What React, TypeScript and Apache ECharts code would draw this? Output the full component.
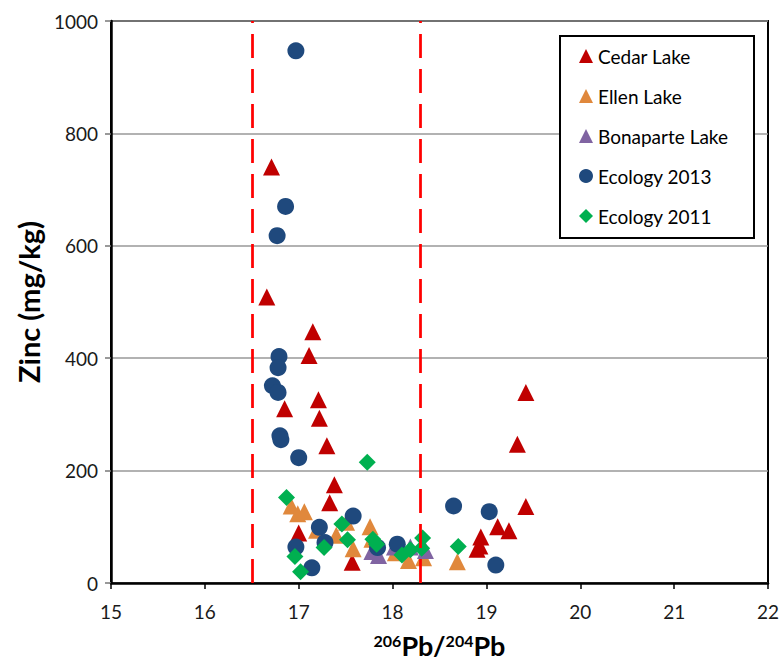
import React, { useEffect, useRef } from "react";
import * as echarts from "echarts";

// Zinc concentration vs. 206Pb/204Pb ratio, per sample group: [ratio, zinc mg/kg]
const cedarLake: number[][] = [
  [16.71, 740], [16.66, 509], [17.15, 447], [17.11, 405], [16.85, 310],
  [17.21, 326], [17.22, 293], [17.30, 244], [17.38, 175], [17.33, 143],
  [17.00, 89], [17.57, 37], [19.42, 339], [19.33, 247], [19.42, 136],
  [19.12, 100], [19.24, 93], [18.94, 82], [18.90, 60], [18.93, 66],
];

const ellenLake: number[][] = [
  [16.92, 137], [16.99, 123], [17.06, 127], [17.19, 94], [17.40, 85],
  [17.51, 108], [17.58, 61], [17.76, 100], [17.78, 78], [18.03, 54],
  [18.17, 40], [18.33, 45], [18.69, 38],
];

const bonaparteLake: number[][] = [
  [17.78, 56], [17.85, 49], [18.02, 64], [18.19, 64], [18.35, 58],
];

const ecology2013: number[][] = [
  [16.97, 947], [16.86, 670], [16.77, 618], [16.79, 403], [16.78, 383],
  [16.72, 351], [16.78, 339], [16.80, 262], [16.81, 255], [17.00, 223],
  [17.58, 119], [17.22, 99], [17.28, 72], [16.97, 64], [17.14, 27],
  [17.84, 63], [18.05, 69], [18.65, 137], [19.03, 127], [19.10, 32],
];

const ecology2011: number[][] = [
  [17.73, 215], [16.87, 152], [17.46, 105], [17.52, 77], [17.27, 63],
  [16.96, 47], [17.02, 20], [17.79, 78], [17.83, 69], [18.10, 50],
  [18.19, 59], [18.32, 80], [18.31, 62], [18.70, 65],
];

// Isotope-ratio range boundaries drawn as dashed verticals
const boundaries: number[] = [16.5, 18.3];

// Axis ranges
const xRange = { min: 15, max: 22, step: 1 };
const yRange = { min: 0, max: 1000, step: 200 };

const FONT = "Lato";

const seriesDefs = [
  { name: "Cedar Lake", data: cedarLake, symbol: "triangle", color: "#C00000" },
  { name: "Ellen Lake", data: ellenLake, symbol: "triangle", color: "#E0883C" },
  { name: "Bonaparte Lake", data: bonaparteLake, symbol: "triangle", color: "#8064A2" },
  { name: "Ecology 2013", data: ecology2013, symbol: "circle", color: "#1F497D" },
  { name: "Ecology 2011", data: ecology2011, symbol: "diamond", color: "#00B050" },
];

export default function App() {
  const ref = useRef<HTMLDivElement>(null);

  useEffect(() => {
    if (!ref.current) return;
    const chart = echarts.init(ref.current, undefined, { renderer: "svg" });

    const scatterSeries = seriesDefs.map((s) => ({
      name: s.name,
      type: "scatter",
      data: s.data,
      symbol: s.symbol,
      symbolSize: 17,
      itemStyle: { color: s.color, opacity: 1 },
      z: 3,
    }));

    chart.setOption({
      animation: false,
      backgroundColor: "#ffffff",
      grid: {
        left: 111,
        right: 13,
        top: 21,
        bottom: 78,
        outerBoundsMode: "none",
        show: true,
        borderColor: "#000",
        borderWidth: 2,
        containLabel: false,
      },
      xAxis: {
        type: "value",
        min: xRange.min,
        max: xRange.max,
        interval: xRange.step,
        axisLine: { show: true, onZero: false, lineStyle: { color: "#000", width: 2.5 } },
        axisTick: { show: true, inside: false, length: 6, lineStyle: { color: "#000", width: 1.5 } },
        splitLine: { show: false },
        axisLabel: { fontFamily: FONT, fontSize: 19, color: "#1a1a1a", margin: 19 },
        name: "{sup|206}{main|Pb/}{sup|204}{main|Pb}",
        nameLocation: "middle",
        nameGap: 49,
        nameTextStyle: {
          rich: {
            main: { fontFamily: FONT, fontWeight: "bold", fontSize: 27, lineHeight: 26, color: "#000" },
            sup: { fontFamily: FONT, fontWeight: "bold", fontSize: 16, lineHeight: 14, color: "#000", verticalAlign: "top" },
          },
        },
      },
      yAxis: {
        type: "value",
        min: yRange.min,
        max: yRange.max,
        interval: yRange.step,
        axisLine: { show: true, lineStyle: { color: "#000", width: 2.5 } },
        axisTick: { show: true, inside: false, length: 6, lineStyle: { color: "#777", width: 1.5 } },
        splitLine: { show: true, lineStyle: { color: "#999", width: 1.5 } },
        axisLabel: {
          fontFamily: FONT,
          fontSize: 19,
          color: "#1a1a1a",
          margin: 13,
          formatter: (v: number) => String(v),
        },
        name: "Zinc (mg/kg)",
        nameLocation: "middle",
        nameGap: 46,
        nameRotate: 90,
        nameTextStyle: { fontFamily: FONT, fontWeight: "bold", fontSize: 29, color: "#000" },
      },
      legend: {
        data: seriesDefs.map((s) => ({ name: s.name, icon: s.symbol })),
        orient: "vertical",
        left: 579,
        top: 46,
        padding: 0,
        itemWidth: 14,
        itemHeight: 14,
        itemGap: 20,
        z: 10,
        textStyle: { fontFamily: FONT, fontSize: 19, lineHeight: 20, color: "#000" },
      },
      graphic: [
        {
          type: "rect",
          left: 559,
          top: 35,
          shape: { width: 194, height: 202 },
          style: { fill: "#fff", stroke: "#000", lineWidth: 2 },
          z: 2,
          silent: true,
        },
      ],
      series: [
        {
          name: "boundaries",
          type: "scatter",
          data: [],
          z: 1,
          markLine: {
            silent: true,
            symbol: "none",
            label: { show: false },
            lineStyle: { color: "#FF0000", type: [24, 11], width: 2.75 },
            data: boundaries.map((b) => ({ xAxis: b })),
          },
        },
        ...scatterSeries,
      ],
    });

    return () => chart.dispose();
  }, []);

  return (
    <div
      ref={ref}
      style={{ position: "fixed", left: 0, top: 0, width: 781, height: 661 }}
    />
  );
}
